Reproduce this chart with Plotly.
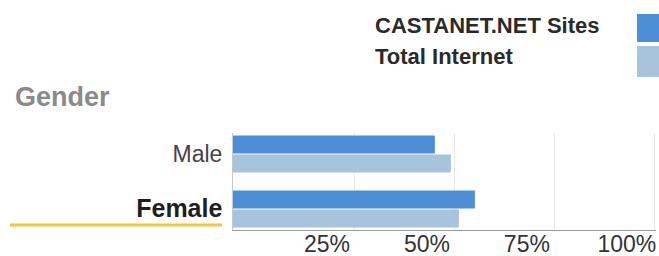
import plotly.graph_objects as go

# ---- data ----
categories = ["Male", "Female"]
series_names = ["CASTANET.NET Sites", "Total Internet"]
site_values = [45.0, 55.0]
total_values = [49.0, 51.0]
tick_values = [25, 50, 75, 100]
tick_labels = ["25%", "50%", "75%", "100%"]
title_text = "Gender"
selected_category = "Female"

# ---- style ----
W, H = 659, 256
ML, MR, MT, MB = 233, 3, 133, 26
AXIS_MIN, AXIS_MAX = -5.5, 100.3
C_SITE = "#4d8fd6"
C_TOTAL = "#a8c4dd"
FONT = "Liberation Sans, Arial, sans-serif"

pw = W - ML - MR
ph = H - MT - MB


def px_x(px):
    return (px - ML) / pw


def px_y(py):
    return (H - MB - py) / ph


fig = go.Figure()
for name, vals, col in [(series_names[0], site_values, C_SITE),
                        (series_names[1], total_values, C_TOTAL)]:
    fig.add_trace(go.Bar(
        y=categories,
        x=[v - AXIS_MIN for v in vals],
        base=AXIS_MIN,
        orientation="h",
        name=name,
        marker=dict(color=col, line=dict(width=0)),
        showlegend=False,
    ))

ticktext_y = []
for c in categories:
    if c == selected_category:
        ticktext_y.append(f"<b><span style='color:#1e1e1e;font-size:25px'>{c}</span></b>")
    else:
        ticktext_y.append(f"<span style='color:#444444'>{c}</span>")

fig.update_layout(
    template="none",
    width=W, height=H,
    margin=dict(l=ML, r=MR, t=MT, b=MB, pad=0),
    paper_bgcolor="white", plot_bgcolor="white",
    barmode="group", bargap=0.31, bargroupgap=0.05,
    font=dict(family=FONT, size=22, color="#333333"),
    xaxis=dict(
        range=[AXIS_MIN, AXIS_MAX],
        tickvals=tick_values, ticktext=tick_labels,
        showgrid=True, gridcolor="#e8e8e8", gridwidth=1,
        zeroline=False, automargin=False,
        showline=True, linecolor="#9a9a9a", linewidth=1,
        ticks="", ticklabelshift=-28, ticklabelstandoff=-7,
        tickfont=dict(size=23, color="#333333"),
        fixedrange=True,
    ),
    yaxis=dict(
        range=[1.38, -0.38],
        tickvals=categories, ticktext=ticktext_y,
        showgrid=False, zeroline=False, automargin=False,
        showline=True, linecolor="#c8c8c8", linewidth=1,
        ticks="", ticklabelstandoff=5,
        tickfont=dict(size=23),
        fixedrange=True,
    ),
)

# title
fig.add_annotation(
    text=f"<b>{title_text}</b>", xref="paper", yref="paper",
    x=px_x(13), y=px_y(97), xanchor="left", yanchor="middle",
    showarrow=False, font=dict(size=27, color="#8a8a8a", family=FONT),
)

# selected-category underline
fig.add_shape(
    type="line", xref="paper", yref="paper",
    x0=px_x(10), x1=px_x(222), y0=px_y(225), y1=px_y(225),
    line=dict(color="#f4c53f", width=3),
)

# legend (text left, swatch right)
legend_rows = [(series_names[0], C_SITE, 26, 14, 42),
               (series_names[1], C_TOTAL, 57, 46, 77)]
for name, col, ty, y0, y1 in legend_rows:
    fig.add_annotation(
        text=f"<b>{name}</b>", xref="paper", yref="paper",
        x=px_x(373), y=px_y(ty), xanchor="left", yanchor="middle",
        showarrow=False, font=dict(size=22, color="#2a2a2a", family=FONT),
    )
    fig.add_shape(
        type="rect", xref="paper", yref="paper",
        x0=px_x(637), x1=px_x(W + 5), y0=px_y(y1), y1=px_y(y0),
        fillcolor=col, line=dict(width=0),
    )

fig.write_html("out.html", config={"displayModeBar": False},
               post_script="document.body.style.margin='0';")
